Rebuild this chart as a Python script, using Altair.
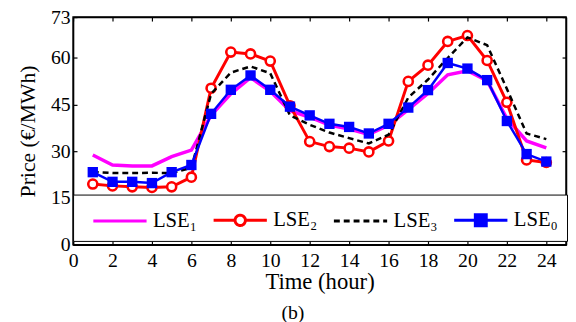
import altair as alt
import pandas as pd

# ---------------- data ----------------
hours = list(range(1, 25))
lse1 = [28.8, 25.6, 25.3, 25.3, 28.3, 30.4, 41.5, 48.4, 53.6, 49.2, 43.0, 40.9,
        38.4, 37.1, 35.4, 38.3, 43.3, 48.5, 54.5, 55.8, 52.6, 40.5, 33.3, 31.1]
lse2 = [19.5, 18.9, 18.6, 18.4, 18.6, 21.7, 50.2, 61.8, 61.2, 58.9, 44.6, 33.1,
        31.5, 31.0, 29.8, 33.3, 52.4, 57.6, 65.2, 67.1, 59.1, 45.7, 27.2, 26.4]
lse3 = [23.4, 23.0, 23.0, 23.1, 23.0, 24.7, 48.4, 55.2, 57.2, 55.0, 41.5, 38.5,
        36.0, 34.2, 32.5, 35.3, 47.2, 53.0, 59.9, 66.5, 64.0, 50.0, 35.7, 33.9]
lse0 = [23.3, 20.2, 20.2, 19.8, 23.3, 25.6, 42.0, 49.7, 54.3, 49.7, 44.3, 41.5,
        38.8, 37.8, 35.7, 38.8, 44.0, 49.6, 58.3, 56.5, 52.8, 39.7, 29.1, 26.7]

series_names = ["LSE\u2081", "LSE\u2082", "LSE\u2083", "LSE\u2080"]
series_colors = ["#ff00ff", "#ff0000", "#000000", "#0000ff"]
series_fills = ["#ffffff", "#ffffff", "#ffffff", "#0000ff"]
series_dash = [[1, 0], [1, 0], [6, 4], [1, 0]]
# legend glyphs: long line (+ marker), unit = 15 px
legend_shapes = [
    "M-0.33,0L3.27,0",
    "M-0.33,0L1.12,0M1.82,0L3.27,0M1.82,0A0.35,0.35 0 1 1 1.12,0A0.35,0.35 0 1 1 1.82,0Z",
    "M-0.33,0L3.27,0",
    "M-0.33,0L3.27,0M1.1,-0.37L1.84,-0.37L1.84,0.37L1.1,0.37Z",
]
x_ticks = list(range(0, 25, 2))
y_ticks = [0, 15, 30, 45, 60, 73]

rows = []
for name, vals in zip(series_names, [lse1, lse2, lse3, lse0]):
    for h, v in zip(hours, vals):
        rows.append({"hour": h, "price": v, "series": name})
df = pd.DataFrame(rows)

# ---------------- styling ----------------
W, H = 500, 231
FONT = "Liberation Serif"
xscale = alt.Scale(domain=[0, 25], nice=False, zero=False)
yscale = alt.Scale(domain=[0, 73], nice=False, zero=False)
INWARD = {"expr": "-4"}

common = dict(grid=False, domainColor="black", tickColor="black", domainWidth=1.5,
              tickWidth=1.2, labelColor="black", titleColor="black", labelFont=FONT,
              titleFont=FONT, titleFontWeight="normal", labelFlush=False)

ax_x_main = alt.Axis(orient="bottom", values=x_ticks, format="d", title="Time (hour)",
                     tickSize=INWARD, labelPadding=10, labelFontSize=20, titleFontSize=23,
                     titleY=26, **common)
ax_y_main = alt.Axis(orient="left", values=y_ticks, format="d", title="Price (\u20ac/MWh)",
                     tickSize=INWARD, labelPadding=7, labelFontSize=20, titleFontSize=22,
                     titlePadding=11, **common)
ax_x_top = alt.Axis(orient="top", values=x_ticks, labels=False, title=None,
                    tickSize=INWARD, **common)
ax_y_right = alt.Axis(orient="right", values=y_ticks, labels=False, title=None,
                      tickSize=INWARD, **common)


def enc(xaxis, yaxis):
    return dict(x=alt.X("hour:Q", scale=xscale, axis=xaxis),
                y=alt.Y("price:Q", scale=yscale, axis=yaxis))


def sel(i):
    return alt.datum.series == series_names[i]


base = alt.Chart(df)

line1 = base.transform_filter(sel(0)).mark_line(
    color=series_colors[0], strokeWidth=3.5).encode(**enc(ax_x_main, ax_y_main))
line2 = base.transform_filter(sel(1)).mark_line(
    color=series_colors[1], strokeWidth=3).encode(**enc(ax_x_top, ax_y_right))
pts2 = base.transform_filter(sel(1)).mark_point(
    shape="circle", size=85, filled=True, fill="white", stroke=series_colors[1],
    strokeWidth=2.6, opacity=1).encode(**enc(None, None))
line3 = base.transform_filter(sel(2)).mark_line(
    color=series_colors[2], strokeWidth=2.5, strokeDash=[6, 4]).encode(**enc(None, None))
line0 = base.transform_filter(sel(3)).mark_line(
    color=series_colors[3], strokeWidth=2.5).encode(**enc(None, None))
pts0 = base.transform_filter(sel(3)).mark_point(
    shape="square", size=110, filled=True, color=series_colors[3], opacity=1).encode(**enc(None, None))

legend = alt.Legend(title=None, orient="none", legendX=0, legendY=180, direction="horizontal",
                    columns=4, symbolSize=900, symbolStrokeWidth=3, symbolOpacity=1,
                    labelFont=FONT, labelFontSize=21, labelColor="black", labelLimit=200,
                    labelOffset=39, columnPadding=5, padding=9, fillColor="white",
                    strokeColor="black")

leg_layer = base.mark_point(opacity=0, filled=False).encode(
    **enc(None, None),
    color=alt.Color("series:N", scale=alt.Scale(domain=series_names, range=series_colors), legend=legend),
    fill=alt.Fill("series:N", scale=alt.Scale(domain=series_names, range=series_fills), legend=legend),
    shape=alt.Shape("series:N", scale=alt.Scale(domain=series_names, range=legend_shapes), legend=legend),
    strokeDash=alt.StrokeDash("series:N", scale=alt.Scale(domain=series_names, range=series_dash), legend=legend),
)

chart = alt.layer(line1, line2, pts2, line3, line0, pts0, leg_layer).resolve_axis(
    x="independent", y="independent"
).properties(
    width=W, height=H,
    autosize=alt.AutoSizeParams(type="none"),
    padding={"left": 66, "top": 7, "right": 2, "bottom": 76},
    title=alt.TitleParams(text="(b)", orient="bottom", anchor="middle", dx=-27,
                          font=FONT, fontSize=20, fontWeight="normal", color="black", offset=10),
).configure_view(stroke="black", strokeWidth=1.5)

chart.save("out.html", embed_options={"renderer": "svg", "actions": False})
